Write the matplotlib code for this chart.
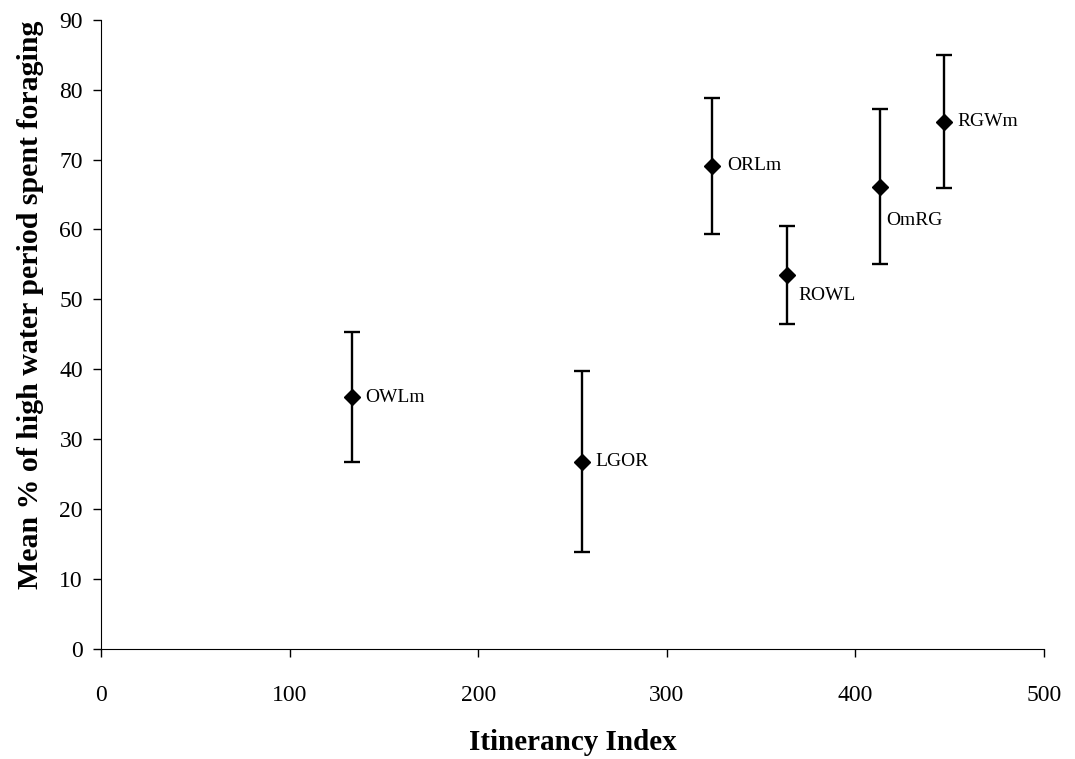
import numpy as np
import matplotlib.pyplot as plt

plt.rcParams['font.family'] = 'Liberation Serif'

sites = ['OWLm', 'LGOR', 'ORLm', 'ROWL', 'OmRG', 'RGWm']
itinerancy = [133, 255, 324, 364, 413, 447]
foraging = [36.0, 26.8, 69.1, 53.5, 66.1, 75.4]
err = [9.3, 12.9, 9.7, 7.0, 11.1, 9.5]

# label offsets in points (dx, dy)
offsets = [(10, 0), (10, 0), (11, 0), (8, -15), (5, -24), (10, 0)]

fig, ax = plt.subplots(figsize=(10.75, 7.59), dpi=100)
fig.subplots_adjust(left=0.094, right=0.971, top=0.974, bottom=0.145)

ax.errorbar(itinerancy, foraging, yerr=err, fmt='D', color='black',
            markersize=8.5, elinewidth=1.7, capsize=6, capthick=1.7)

for s, x, y, (dx, dy) in zip(sites, itinerancy, foraging, offsets):
    ax.annotate(s, (x, y), xytext=(dx, dy), textcoords='offset points',
                ha='left', va='center', fontsize=14)

ax.set_xlim(0, 500)
ax.set_ylim(0, 90)
ax.set_xticks(np.arange(0, 501, 100))
ax.set_yticks(np.arange(0, 91, 10))
ax.tick_params(labelsize=17, direction='out', length=6, width=1)
ax.tick_params(axis='x', pad=20)
ax.tick_params(axis='y', pad=7)
ax.spines['top'].set_visible(False)
ax.spines['right'].set_visible(False)

ax.set_xlabel('Itinerancy Index', fontsize=21, fontweight='bold')
ax.xaxis.set_label_coords(0.5, -0.128)
ax.set_ylabel('Mean % of high water period spent foraging', fontsize=21.5,
              fontweight='bold')
ax.yaxis.set_label_coords(-0.06, 0.547)

plt.savefig('out.png')
